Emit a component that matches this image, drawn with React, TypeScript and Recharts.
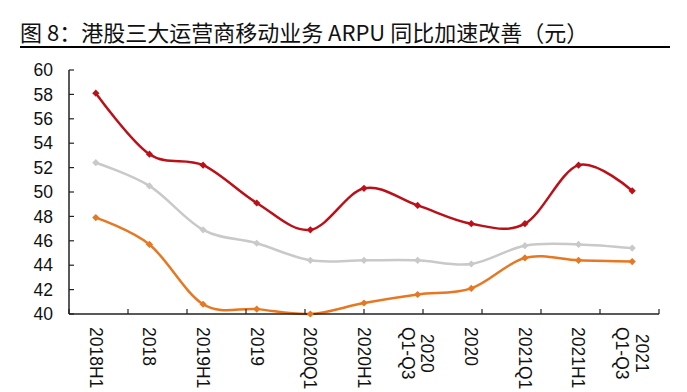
import React from "react";
import { LineChart, Line, XAxis, YAxis } from "recharts";

const categories = ["2018H1", "2018", "2019H1", "2019", "2020Q1", "2020H1", "2020\nQ1-Q3", "2020", "2021Q1", "2021H1", "2021\nQ1-Q3"];
const redSeries = [58.1, 53.1, 52.2, 49.1, 46.9, 50.3, 48.9, 47.4, 47.4, 52.2, 50.1];
const graySeries = [52.4, 50.5, 46.9, 45.8, 44.4, 44.4, 44.4, 44.1, 45.6, 45.7, 45.4];
const orangeSeries = [47.9, 45.7, 40.8, 40.4, 40.0, 40.9, 41.6, 42.1, 44.6, 44.4, 44.3];
const yTicks = [40, 42, 44, 46, 48, 50, 52, 54, 56, 58, 60];
const boundaryTicks = [0, 1, 2, 3, 4, 5, 6, 7, 8, 9, 10, 11];

const data = categories.map((c, i) => ({
  cat: c,
  red: redSeries[i],
  gray: graySeries[i],
  orange: orangeSeries[i],
}));

// Catmull-Rom style cardinal curve (Excel-like smoothing)
function makeCardinal(tension: number) {
  const k = (1 - tension) / 6;
  const factory = (context: any) => {
    let x0 = NaN, y0 = NaN, x1 = NaN, y1 = NaN, x2 = NaN, y2 = NaN;
    let pt = 0;
    let line = NaN;
    const bez = (x: number, y: number) => {
      context.bezierCurveTo(
        x1 + k * (x2 - x0),
        y1 + k * (y2 - y0),
        x2 + k * (x1 - x),
        y2 + k * (y1 - y),
        x2,
        y2
      );
    };
    return {
      areaStart() { line = 0; },
      areaEnd() { line = NaN; },
      lineStart() {
        x0 = x1 = x2 = y0 = y1 = y2 = NaN;
        pt = 0;
      },
      lineEnd() {
        switch (pt) {
          case 2: context.lineTo(x2, y2); break;
          case 3: bez(x1, y1); break;
        }
        if (line || (line !== 0 && pt === 1)) context.closePath();
        line = 1 - line;
      },
      point(x: number, y: number) {
        x = +x; y = +y;
        switch (pt) {
          case 0: pt = 1; line ? context.lineTo(x, y) : context.moveTo(x, y); break;
          case 1: pt = 2; x1 = x; y1 = y; break;
          case 2: pt = 3;
          // falls through
          default: bez(x, y); break;
        }
        x0 = x1; x1 = x2; x2 = x;
        y0 = y1; y1 = y2; y2 = y;
      },
    };
  };
  return factory;
}
const smooth = makeCardinal(0);

const Diamond = (color: string) => (props: any) => {
  const { cx, cy, index } = props;
  if (cx == null || cy == null) return <g key={index} />;
  const s = 3.6;
  return (
    <path
      key={index}
      d={`M${cx},${cy - s}L${cx + s},${cy}L${cx},${cy + s}L${cx - s},${cy}Z`}
      fill={color}
      stroke="none"
    />
  );
};

const charEm = (ch: string) => {
  if (ch === "Q") return 0.778;
  if (ch === "H") return 0.722;
  if (ch === "-") return 0.333;
  return 0.556;
};
const textEm = (s: string) => s.split("").reduce((a, c) => a + charEm(c), 0);

const LABEL_FS = 17.5;

const CatTick = (props: any) => {
  const { x, y, payload } = props;
  const lines = String(payload.value).split("\n");
  const n = lines.length;
  const maxEm = Math.max(...lines.map(textEm));
  const center = (maxEm * LABEL_FS) / 2;
  return (
    <g transform={`translate(${x},${y}) rotate(90)`}>
      <text
        y={0}
        textAnchor="middle"
        fill="#111"
        fontSize={LABEL_FS}
        fontFamily="Liberation Sans, Arial, sans-serif"
      >
        {lines.map((l, i) => (
          <tspan key={i} x={center} dy={i === 0 ? `${0.35 - (n - 1) * 0.57}em` : "1.14em"}>
            {l}
          </tspan>
        ))}
      </text>
    </g>
  );
};

export default function App() {
  return (
    <div style={{ position: "absolute", left: 0, top: 0, width: 687, height: 392, background: "#fff", overflow: "hidden" }}>
      <div
        style={{
          position: "absolute",
          left: 20,
          top: 17,
          fontFamily: "'Noto Sans CJK SC', sans-serif",
          fontSize: 22,
          lineHeight: "28px",
          color: "#111",
          whiteSpace: "nowrap",
        }}
      >
        图 8：港股三大运营商移动业务 ARPU 同比加速改善（元）
      </div>
      <div style={{ position: "absolute", left: 20, top: 46, width: 650, height: 2, background: "#000" }} />
      <div style={{ position: "absolute", left: 0, top: 0 }}>
        <LineChart
          width={687}
          height={392}
          data={data}
          margin={{ top: 70, right: 28, bottom: 0, left: 0 }}
        >
          <XAxis
            xAxisId="bounds"
            type="number"
            domain={[0, 11]}
            ticks={boundaryTicks}
            allowDataOverflow
            height={8}
            axisLine={{ stroke: "#222", strokeWidth: 1.5 }}
            tickLine={{ stroke: "#222", strokeWidth: 1.2 }}
            tickSize={-5}
            tickFormatter={() => ""}
            interval={0}
          />
          <XAxis
            xAxisId="cat"
            dataKey="cat"
            type="category"
            scale="band"
            height={70}
            axisLine={false}
            tickLine={false}
            tick={<CatTick />}
            interval={0}
            tickSize={0}
            tickMargin={5}
          />
          <YAxis
            domain={[40, 60]}
            ticks={yTicks}
            width={69}
            interval={0}
            axisLine={{ stroke: "#222", strokeWidth: 1.5 }}
            tickLine={{ stroke: "#222", strokeWidth: 1.2 }}
            tickSize={-5}
            tickMargin={21}
            tick={{ fill: "#111", fontSize: 17.5, fontFamily: "Liberation Sans, Arial, sans-serif" }}
          />
          <Line
            xAxisId="cat"
            dataKey="gray"
            type={smooth as any}
            stroke="#C9C9C9"
            strokeWidth={2.5}
            dot={Diamond("#C9C9C9")}
            activeDot={false}
            isAnimationActive={false}
          />
          <Line
            xAxisId="cat"
            dataKey="orange"
            type={smooth as any}
            stroke="#E87722"
            strokeWidth={2.5}
            dot={Diamond("#E87722")}
            activeDot={false}
            isAnimationActive={false}
          />
          <Line
            xAxisId="cat"
            dataKey="red"
            type={smooth as any}
            stroke="#BC1018"
            strokeWidth={2.5}
            dot={Diamond("#BC1018")}
            activeDot={false}
            isAnimationActive={false}
          />
        </LineChart>
      </div>
    </div>
  );
}
